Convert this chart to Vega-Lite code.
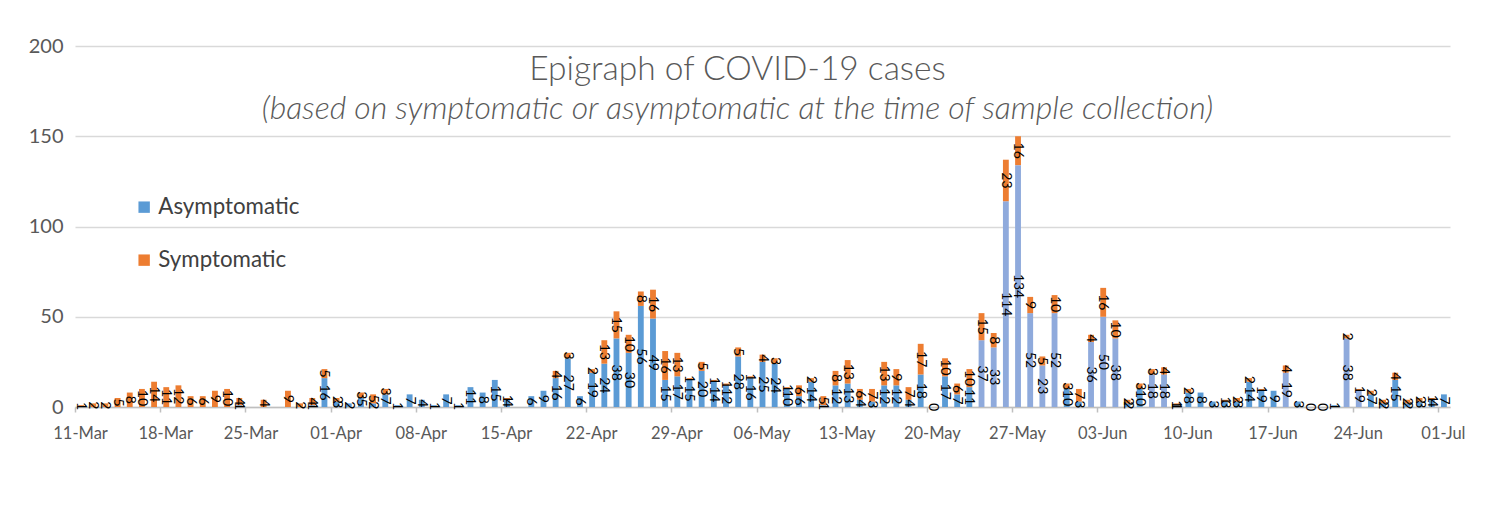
{
  "$schema": "https://vega.github.io/schema/vega-lite/v6.json",
  "width": 1375,
  "height": 361,
  "autosize": {"type": "none"},
  "padding": {"left": 75, "top": 46, "right": 41, "bottom": 106},
  "background": "white",
  "config": {"view": {"stroke": null}, "font": "Lato"},
  "title": {
    "text": "Epigraph of COVID-19 cases",
    "subtitle": "(based on symptomatic or asymptomatic at the time of sample collection)",
    "anchor": "middle",
    "frame": "group",
    "orient": "top",
    "offset": -90,
    "dx": -25,
    "font": "Lato",
    "fontSize": 33.5,
    "fontWeight": 300,
    "color": "#595959",
    "subtitleFont": "Lato",
    "subtitleFontSize": 32,
    "subtitleFontStyle": "italic",
    "subtitleFontWeight": 300,
    "subtitleColor": "#595959",
    "subtitlePadding": 7
  },
  "data": {
    "values": [
      {"date": "24-Mar", "series": "Asymptomatic", "n": 1},
      {"date": "30-Mar", "series": "Asymptomatic", "n": 1},
      {"date": "31-Mar", "series": "Asymptomatic", "n": 16},
      {"date": "01-Apr", "series": "Asymptomatic", "n": 3},
      {"date": "02-Apr", "series": "Asymptomatic", "n": 2},
      {"date": "03-Apr", "series": "Asymptomatic", "n": 5},
      {"date": "04-Apr", "series": "Asymptomatic", "n": 2},
      {"date": "05-Apr", "series": "Asymptomatic", "n": 7},
      {"date": "06-Apr", "series": "Asymptomatic", "n": 1},
      {"date": "07-Apr", "series": "Asymptomatic", "n": 7},
      {"date": "08-Apr", "series": "Asymptomatic", "n": 4},
      {"date": "09-Apr", "series": "Asymptomatic", "n": 1},
      {"date": "10-Apr", "series": "Asymptomatic", "n": 7},
      {"date": "11-Apr", "series": "Asymptomatic", "n": 1},
      {"date": "12-Apr", "series": "Asymptomatic", "n": 11},
      {"date": "13-Apr", "series": "Asymptomatic", "n": 8},
      {"date": "14-Apr", "series": "Asymptomatic", "n": 15},
      {"date": "15-Apr", "series": "Asymptomatic", "n": 4},
      {"date": "17-Apr", "series": "Asymptomatic", "n": 6},
      {"date": "18-Apr", "series": "Asymptomatic", "n": 9},
      {"date": "19-Apr", "series": "Asymptomatic", "n": 16},
      {"date": "20-Apr", "series": "Asymptomatic", "n": 27},
      {"date": "21-Apr", "series": "Asymptomatic", "n": 6},
      {"date": "22-Apr", "series": "Asymptomatic", "n": 19},
      {"date": "23-Apr", "series": "Asymptomatic", "n": 24},
      {"date": "24-Apr", "series": "Asymptomatic", "n": 38},
      {"date": "25-Apr", "series": "Asymptomatic", "n": 30},
      {"date": "26-Apr", "series": "Asymptomatic", "n": 56},
      {"date": "27-Apr", "series": "Asymptomatic", "n": 49},
      {"date": "28-Apr", "series": "Asymptomatic", "n": 15},
      {"date": "29-Apr", "series": "Asymptomatic", "n": 17},
      {"date": "30-Apr", "series": "Asymptomatic", "n": 15},
      {"date": "01-May", "series": "Asymptomatic", "n": 20},
      {"date": "02-May", "series": "Asymptomatic", "n": 14},
      {"date": "03-May", "series": "Asymptomatic", "n": 12},
      {"date": "04-May", "series": "Asymptomatic", "n": 28},
      {"date": "05-May", "series": "Asymptomatic", "n": 16},
      {"date": "06-May", "series": "Asymptomatic", "n": 25},
      {"date": "07-May", "series": "Asymptomatic", "n": 24},
      {"date": "08-May", "series": "Asymptomatic", "n": 10},
      {"date": "09-May", "series": "Asymptomatic", "n": 6},
      {"date": "10-May", "series": "Asymptomatic", "n": 14},
      {"date": "11-May", "series": "Asymptomatic", "n": 1},
      {"date": "12-May", "series": "Asymptomatic", "n": 12},
      {"date": "13-May", "series": "Asymptomatic", "n": 13},
      {"date": "14-May", "series": "Asymptomatic", "n": 4},
      {"date": "15-May", "series": "Asymptomatic", "n": 3},
      {"date": "16-May", "series": "Asymptomatic", "n": 12},
      {"date": "17-May", "series": "Asymptomatic", "n": 12},
      {"date": "18-May", "series": "Asymptomatic", "n": 4},
      {"date": "19-May", "series": "Asymptomatic", "n": 18},
      {"date": "20-May", "series": "Asymptomatic", "n": 0},
      {"date": "21-May", "series": "Asymptomatic", "n": 17},
      {"date": "22-May", "series": "Asymptomatic", "n": 7},
      {"date": "23-May", "series": "Asymptomatic", "n": 11},
      {"date": "24-May", "series": "Asymptomatic", "n": 37},
      {"date": "25-May", "series": "Asymptomatic", "n": 33},
      {"date": "26-May", "series": "Asymptomatic", "n": 114},
      {"date": "27-May", "series": "Asymptomatic", "n": 134},
      {"date": "28-May", "series": "Asymptomatic", "n": 52},
      {"date": "29-May", "series": "Asymptomatic", "n": 23},
      {"date": "30-May", "series": "Asymptomatic", "n": 52},
      {"date": "31-May", "series": "Asymptomatic", "n": 10},
      {"date": "01-Jun", "series": "Asymptomatic", "n": 3},
      {"date": "02-Jun", "series": "Asymptomatic", "n": 36},
      {"date": "03-Jun", "series": "Asymptomatic", "n": 50},
      {"date": "04-Jun", "series": "Asymptomatic", "n": 38},
      {"date": "05-Jun", "series": "Asymptomatic", "n": 2},
      {"date": "06-Jun", "series": "Asymptomatic", "n": 10},
      {"date": "07-Jun", "series": "Asymptomatic", "n": 18},
      {"date": "08-Jun", "series": "Asymptomatic", "n": 18},
      {"date": "09-Jun", "series": "Asymptomatic", "n": 1},
      {"date": "10-Jun", "series": "Asymptomatic", "n": 8},
      {"date": "11-Jun", "series": "Asymptomatic", "n": 8},
      {"date": "12-Jun", "series": "Asymptomatic", "n": 3},
      {"date": "13-Jun", "series": "Asymptomatic", "n": 3},
      {"date": "14-Jun", "series": "Asymptomatic", "n": 3},
      {"date": "15-Jun", "series": "Asymptomatic", "n": 14},
      {"date": "16-Jun", "series": "Asymptomatic", "n": 9},
      {"date": "17-Jun", "series": "Asymptomatic", "n": 9},
      {"date": "18-Jun", "series": "Asymptomatic", "n": 19},
      {"date": "19-Jun", "series": "Asymptomatic", "n": 3},
      {"date": "20-Jun", "series": "Asymptomatic", "n": 0},
      {"date": "21-Jun", "series": "Asymptomatic", "n": 0},
      {"date": "22-Jun", "series": "Asymptomatic", "n": 1},
      {"date": "23-Jun", "series": "Asymptomatic", "n": 38},
      {"date": "24-Jun", "series": "Asymptomatic", "n": 9},
      {"date": "25-Jun", "series": "Asymptomatic", "n": 7},
      {"date": "26-Jun", "series": "Asymptomatic", "n": 2},
      {"date": "27-Jun", "series": "Asymptomatic", "n": 15},
      {"date": "28-Jun", "series": "Asymptomatic", "n": 2},
      {"date": "29-Jun", "series": "Asymptomatic", "n": 3},
      {"date": "30-Jun", "series": "Asymptomatic", "n": 4},
      {"date": "01-Jul", "series": "Asymptomatic", "n": 7},
      {"date": "11-Mar", "series": "Symptomatic", "n": 1},
      {"date": "12-Mar", "series": "Symptomatic", "n": 2},
      {"date": "13-Mar", "series": "Symptomatic", "n": 2},
      {"date": "14-Mar", "series": "Symptomatic", "n": 5},
      {"date": "15-Mar", "series": "Symptomatic", "n": 8},
      {"date": "16-Mar", "series": "Symptomatic", "n": 10},
      {"date": "17-Mar", "series": "Symptomatic", "n": 14},
      {"date": "18-Mar", "series": "Symptomatic", "n": 11},
      {"date": "19-Mar", "series": "Symptomatic", "n": 12},
      {"date": "20-Mar", "series": "Symptomatic", "n": 6},
      {"date": "21-Mar", "series": "Symptomatic", "n": 6},
      {"date": "22-Mar", "series": "Symptomatic", "n": 9},
      {"date": "23-Mar", "series": "Symptomatic", "n": 10},
      {"date": "24-Mar", "series": "Symptomatic", "n": 4},
      {"date": "26-Mar", "series": "Symptomatic", "n": 4},
      {"date": "28-Mar", "series": "Symptomatic", "n": 9},
      {"date": "29-Mar", "series": "Symptomatic", "n": 2},
      {"date": "30-Mar", "series": "Symptomatic", "n": 4},
      {"date": "31-Mar", "series": "Symptomatic", "n": 5},
      {"date": "01-Apr", "series": "Symptomatic", "n": 2},
      {"date": "03-Apr", "series": "Symptomatic", "n": 3},
      {"date": "04-Apr", "series": "Symptomatic", "n": 5},
      {"date": "05-Apr", "series": "Symptomatic", "n": 3},
      {"date": "15-Apr", "series": "Symptomatic", "n": 1},
      {"date": "19-Apr", "series": "Symptomatic", "n": 4},
      {"date": "20-Apr", "series": "Symptomatic", "n": 3},
      {"date": "22-Apr", "series": "Symptomatic", "n": 2},
      {"date": "23-Apr", "series": "Symptomatic", "n": 13},
      {"date": "24-Apr", "series": "Symptomatic", "n": 15},
      {"date": "25-Apr", "series": "Symptomatic", "n": 10},
      {"date": "26-Apr", "series": "Symptomatic", "n": 8},
      {"date": "27-Apr", "series": "Symptomatic", "n": 16},
      {"date": "28-Apr", "series": "Symptomatic", "n": 16},
      {"date": "29-Apr", "series": "Symptomatic", "n": 13},
      {"date": "30-Apr", "series": "Symptomatic", "n": 1},
      {"date": "01-May", "series": "Symptomatic", "n": 5},
      {"date": "02-May", "series": "Symptomatic", "n": 1},
      {"date": "03-May", "series": "Symptomatic", "n": 1},
      {"date": "04-May", "series": "Symptomatic", "n": 5},
      {"date": "05-May", "series": "Symptomatic", "n": 1},
      {"date": "06-May", "series": "Symptomatic", "n": 4},
      {"date": "07-May", "series": "Symptomatic", "n": 3},
      {"date": "08-May", "series": "Symptomatic", "n": 1},
      {"date": "09-May", "series": "Symptomatic", "n": 6},
      {"date": "10-May", "series": "Symptomatic", "n": 2},
      {"date": "11-May", "series": "Symptomatic", "n": 5},
      {"date": "12-May", "series": "Symptomatic", "n": 8},
      {"date": "13-May", "series": "Symptomatic", "n": 13},
      {"date": "14-May", "series": "Symptomatic", "n": 6},
      {"date": "15-May", "series": "Symptomatic", "n": 7},
      {"date": "16-May", "series": "Symptomatic", "n": 13},
      {"date": "17-May", "series": "Symptomatic", "n": 9},
      {"date": "18-May", "series": "Symptomatic", "n": 7},
      {"date": "19-May", "series": "Symptomatic", "n": 17},
      {"date": "21-May", "series": "Symptomatic", "n": 10},
      {"date": "22-May", "series": "Symptomatic", "n": 6},
      {"date": "23-May", "series": "Symptomatic", "n": 10},
      {"date": "24-May", "series": "Symptomatic", "n": 15},
      {"date": "25-May", "series": "Symptomatic", "n": 8},
      {"date": "26-May", "series": "Symptomatic", "n": 23},
      {"date": "27-May", "series": "Symptomatic", "n": 16},
      {"date": "28-May", "series": "Symptomatic", "n": 9},
      {"date": "29-May", "series": "Symptomatic", "n": 5},
      {"date": "30-May", "series": "Symptomatic", "n": 10},
      {"date": "31-May", "series": "Symptomatic", "n": 3},
      {"date": "01-Jun", "series": "Symptomatic", "n": 7},
      {"date": "02-Jun", "series": "Symptomatic", "n": 4},
      {"date": "03-Jun", "series": "Symptomatic", "n": 16},
      {"date": "04-Jun", "series": "Symptomatic", "n": 10},
      {"date": "05-Jun", "series": "Symptomatic", "n": 2},
      {"date": "06-Jun", "series": "Symptomatic", "n": 3},
      {"date": "07-Jun", "series": "Symptomatic", "n": 3},
      {"date": "08-Jun", "series": "Symptomatic", "n": 4},
      {"date": "09-Jun", "series": "Symptomatic", "n": 1},
      {"date": "10-Jun", "series": "Symptomatic", "n": 2},
      {"date": "13-Jun", "series": "Symptomatic", "n": 1},
      {"date": "14-Jun", "series": "Symptomatic", "n": 2},
      {"date": "15-Jun", "series": "Symptomatic", "n": 2},
      {"date": "16-Jun", "series": "Symptomatic", "n": 1},
      {"date": "18-Jun", "series": "Symptomatic", "n": 4},
      {"date": "23-Jun", "series": "Symptomatic", "n": 2},
      {"date": "24-Jun", "series": "Symptomatic", "n": 1},
      {"date": "25-Jun", "series": "Symptomatic", "n": 2},
      {"date": "26-Jun", "series": "Symptomatic", "n": 2},
      {"date": "27-Jun", "series": "Symptomatic", "n": 4},
      {"date": "28-Jun", "series": "Symptomatic", "n": 2},
      {"date": "29-Jun", "series": "Symptomatic", "n": 2},
      {"date": "30-Jun", "series": "Symptomatic", "n": 1}
    ]
  },
  "encoding": {
    "x": {
      "field": "date",
      "type": "ordinal",
      "sort": null,
      "title": null,
      "scale": {
        "domain": ["11-Mar","12-Mar","13-Mar","14-Mar","15-Mar","16-Mar","17-Mar","18-Mar","19-Mar","20-Mar","21-Mar","22-Mar","23-Mar","24-Mar","25-Mar","26-Mar","27-Mar","28-Mar","29-Mar","30-Mar","31-Mar",
          "01-Apr","02-Apr","03-Apr","04-Apr","05-Apr","06-Apr","07-Apr","08-Apr","09-Apr","10-Apr","11-Apr","12-Apr","13-Apr","14-Apr","15-Apr","16-Apr","17-Apr","18-Apr","19-Apr","20-Apr","21-Apr","22-Apr","23-Apr","24-Apr","25-Apr","26-Apr","27-Apr","28-Apr","29-Apr","30-Apr",
          "01-May","02-May","03-May","04-May","05-May","06-May","07-May","08-May","09-May","10-May","11-May","12-May","13-May","14-May","15-May","16-May","17-May","18-May","19-May","20-May","21-May","22-May","23-May","24-May","25-May","26-May","27-May","28-May","29-May","30-May","31-May",
          "01-Jun","02-Jun","03-Jun","04-Jun","05-Jun","06-Jun","07-Jun","08-Jun","09-Jun","10-Jun","11-Jun","12-Jun","13-Jun","14-Jun","15-Jun","16-Jun","17-Jun","18-Jun","19-Jun","20-Jun","21-Jun","22-Jun","23-Jun","24-Jun","25-Jun","26-Jun","27-Jun","28-Jun","29-Jun","30-Jun",
          "01-Jul"],
        "paddingInner": 0.52,
        "paddingOuter": 0.26
      },
      "axis": {
        "values": ["11-Mar","18-Mar","25-Mar","01-Apr","08-Apr","15-Apr","22-Apr","29-Apr","06-May","13-May","20-May","27-May","03-Jun","10-Jun","17-Jun","24-Jun","01-Jul"],
        "labelAngle": 0,
        "labelFont": "Lato",
        "labelFontSize": 16.5,
        "labelColor": "#595959",
        "domainColor": "#BFBFBF",
        "domainWidth": 1.5,
        "tickColor": "#BFBFBF",
        "tickWidth": 1.5,
        "tickSize": 5,
        "tickOffset": -6,
        "labelOffset": 5,
        "labelPadding": 13,
        "grid": false
      }
    }
  },
  "layer": [
    {
      "mark": {"type": "bar"},
      "encoding": {
        "y": {
          "field": "n",
          "type": "quantitative",
          "stack": "zero",
          "title": null,
          "scale": {"domain": [0, 200], "nice": false},
          "axis": {
            "values": [0, 50, 100, 150, 200],
            "domain": false,
            "ticks": false,
            "labelFont": "Lato",
            "labelFontSize": 20,
            "labelColor": "#595959",
            "labelPadding": 12,
            "gridColor": "#D9D9D9",
            "gridWidth": 1.3
          }
        },
        "order": {"field": "series"},
        "color": {
          "condition": {
            "test": "datum.series === 'Asymptomatic' && indexof(['24-May','25-May','26-May','27-May','28-May','29-May','30-May','02-Jun','03-Jun','04-Jun','07-Jun','08-Jun','18-Jun','23-Jun','24-Jun'], datum.date) >= 0",
            "value": "#8FAADC"
          },
          "field": "series",
          "type": "nominal",
          "scale": {"domain": ["Asymptomatic", "Symptomatic"], "range": ["#5B9BD5", "#ED7D31"]},
          "legend": {
            "title": null,
            "orient": "none",
            "legendX": 58,
            "legendY": 150,
            "padding": 0,
            "symbolType": "square",
            "symbolSize": 130,
            "symbolStrokeWidth": 0,
            "labelFont": "Lato",
            "labelFontSize": 22.3,
            "labelColor": "#404040",
            "labelOffset": 3,
            "rowPadding": 30
          }
        }
      }
    },
    {
      "mark": {"type": "text", "angle": 90, "font": "Lato", "fontSize": 14, "color": "#000000", "align": "center", "baseline": "middle"},
      "encoding": {
        "y": {"field": "n", "type": "quantitative", "stack": "zero", "bandPosition": 0.5},
        "detail": {"field": "series"},
        "order": {"field": "series"},
        "text": {"field": "n", "type": "quantitative"}
      }
    }
  ]
}
